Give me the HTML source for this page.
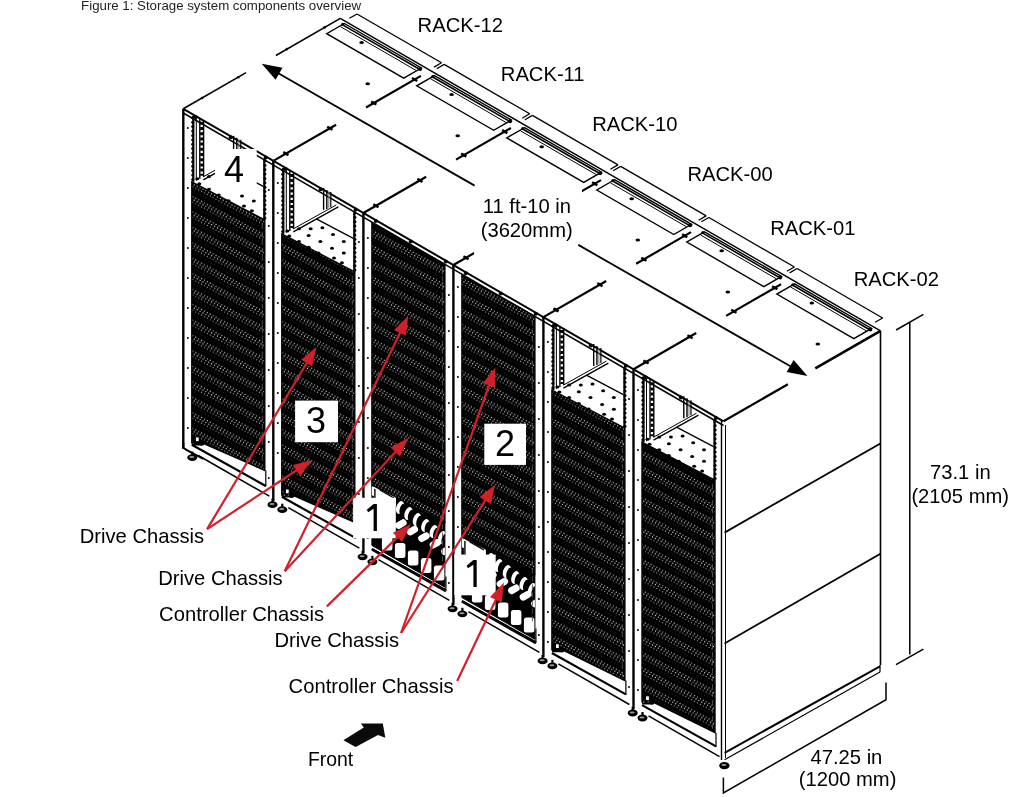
<!DOCTYPE html>
<html><head><meta charset="utf-8"><style>
html,body{margin:0;padding:0;background:#fff;width:1026px;height:797px;overflow:hidden}
svg{display:block;will-change:transform}
text{font-family:"Liberation Sans",sans-serif}
</style></head><body>
<svg width="1026" height="797" viewBox="0 0 1026 797">
<defs>
<pattern id="mesh" patternUnits="userSpaceOnUse" width="29" height="15.45">
<rect width="29" height="15.45" fill="#000"/>
<circle cx="1.45" cy="2.00" r="0.66" fill="#c8c8c8"/><circle cx="2.90" cy="5.37" r="0.66" fill="#e0e0e0"/><circle cx="1.45" cy="7.60" r="0.62" fill="#a8a8a8"/><circle cx="2.90" cy="12.50" r="0.45" fill="#404040"/><circle cx="4.35" cy="3.54" r="0.66" fill="#c8c8c8"/><circle cx="5.80" cy="6.91" r="0.66" fill="#e0e0e0"/><circle cx="4.35" cy="9.14" r="0.62" fill="#a8a8a8"/><circle cx="5.80" cy="14.04" r="0.45" fill="#404040"/><circle cx="7.25" cy="5.09" r="0.66" fill="#c8c8c8"/><circle cx="8.70" cy="8.46" r="0.66" fill="#e0e0e0"/><circle cx="7.25" cy="10.69" r="0.62" fill="#a8a8a8"/><circle cx="8.70" cy="0.14" r="0.45" fill="#404040"/><circle cx="8.70" cy="15.59" r="0.45" fill="#404040"/><circle cx="10.15" cy="6.63" r="0.66" fill="#c8c8c8"/><circle cx="11.60" cy="10.00" r="0.66" fill="#e0e0e0"/><circle cx="10.15" cy="12.23" r="0.62" fill="#a8a8a8"/><circle cx="11.60" cy="1.68" r="0.45" fill="#404040"/><circle cx="13.05" cy="8.18" r="0.66" fill="#c8c8c8"/><circle cx="14.50" cy="11.55" r="0.66" fill="#e0e0e0"/><circle cx="13.05" cy="13.78" r="0.62" fill="#a8a8a8"/><circle cx="14.50" cy="3.23" r="0.45" fill="#404040"/><circle cx="15.95" cy="9.72" r="0.66" fill="#c8c8c8"/><circle cx="17.40" cy="13.09" r="0.66" fill="#e0e0e0"/><circle cx="15.95" cy="15.32" r="0.62" fill="#a8a8a8"/><circle cx="15.95" cy="-0.12" r="0.62" fill="#a8a8a8"/><circle cx="17.40" cy="4.78" r="0.45" fill="#404040"/><circle cx="18.85" cy="11.27" r="0.66" fill="#c8c8c8"/><circle cx="20.30" cy="14.64" r="0.66" fill="#e0e0e0"/><circle cx="20.30" cy="-0.81" r="0.66" fill="#e0e0e0"/><circle cx="18.85" cy="1.42" r="0.62" fill="#a8a8a8"/><circle cx="20.30" cy="6.32" r="0.45" fill="#404040"/><circle cx="21.75" cy="12.81" r="0.66" fill="#c8c8c8"/><circle cx="23.20" cy="0.73" r="0.66" fill="#e0e0e0"/><circle cx="23.20" cy="16.18" r="0.66" fill="#e0e0e0"/><circle cx="21.75" cy="2.96" r="0.62" fill="#a8a8a8"/><circle cx="23.20" cy="7.86" r="0.45" fill="#404040"/><circle cx="24.65" cy="14.36" r="0.66" fill="#c8c8c8"/><circle cx="26.10" cy="2.28" r="0.66" fill="#e0e0e0"/><circle cx="24.65" cy="4.51" r="0.62" fill="#a8a8a8"/><circle cx="26.10" cy="9.41" r="0.45" fill="#404040"/><circle cx="27.55" cy="0.46" r="0.66" fill="#c8c8c8"/><circle cx="27.55" cy="15.90" r="0.66" fill="#c8c8c8"/><circle cx="29.00" cy="3.83" r="0.66" fill="#e0e0e0"/><circle cx="-0.00" cy="3.83" r="0.66" fill="#e0e0e0"/><circle cx="27.55" cy="6.05" r="0.62" fill="#a8a8a8"/><circle cx="29.00" cy="10.96" r="0.45" fill="#404040"/><circle cx="-0.00" cy="10.96" r="0.45" fill="#404040"/>
</pattern>
</defs>
<line x1="183.3" y1="108.8" x2="246.1" y2="72.6" stroke="#000" stroke-width="1.6" />
<line x1="275.9" y1="55.5" x2="340.3" y2="18.4" stroke="#000" stroke-width="1.6" />
<line x1="340.3" y1="18.4" x2="880.5" y2="330.9" stroke="#000" stroke-width="1.4" />
<line x1="723.5" y1="421.3" x2="787.9" y2="384.2" stroke="#000" stroke-width="2.2" />
<line x1="815.3" y1="368.4" x2="880.5" y2="330.9" stroke="#000" stroke-width="2.6" />
<line x1="273.3" y1="160.9" x2="336.1" y2="124.7" stroke="#000" stroke-width="2.2" />
<line x1="366.0" y1="107.5" x2="420.9" y2="75.9" stroke="#000" stroke-width="2.2" />
<line x1="283.3" y1="152.1" x2="288.5" y2="155.1" stroke="#000" stroke-width="2.4" />
<circle cx="285.9" cy="153.6" r="1.6" fill="#000"/>
<line x1="327.2" y1="126.8" x2="332.5" y2="129.8" stroke="#000" stroke-width="2.4" />
<circle cx="329.9" cy="128.3" r="1.6" fill="#000"/>
<line x1="371.2" y1="101.5" x2="376.4" y2="104.5" stroke="#000" stroke-width="2.4" />
<circle cx="373.8" cy="103.0" r="1.6" fill="#000"/>
<line x1="412.0" y1="78.0" x2="417.2" y2="81.0" stroke="#000" stroke-width="2.4" />
<circle cx="414.6" cy="79.5" r="1.6" fill="#000"/>
<line x1="363.4" y1="213.0" x2="426.2" y2="176.8" stroke="#000" stroke-width="2.2" />
<line x1="456.0" y1="159.6" x2="510.9" y2="128.0" stroke="#000" stroke-width="2.2" />
<line x1="373.3" y1="204.2" x2="378.5" y2="207.2" stroke="#000" stroke-width="2.4" />
<circle cx="375.9" cy="205.7" r="1.6" fill="#000"/>
<line x1="417.3" y1="178.9" x2="422.5" y2="181.9" stroke="#000" stroke-width="2.4" />
<circle cx="419.9" cy="180.4" r="1.6" fill="#000"/>
<line x1="461.2" y1="153.6" x2="466.4" y2="156.6" stroke="#000" stroke-width="2.4" />
<circle cx="463.8" cy="155.1" r="1.6" fill="#000"/>
<line x1="502.1" y1="130.1" x2="507.3" y2="133.1" stroke="#000" stroke-width="2.4" />
<circle cx="504.7" cy="131.6" r="1.6" fill="#000"/>
<line x1="453.4" y1="265.0" x2="516.2" y2="228.9" stroke="#000" stroke-width="2.2" />
<line x1="546.0" y1="211.7" x2="601.0" y2="180.1" stroke="#000" stroke-width="2.2" />
<line x1="463.4" y1="256.3" x2="468.6" y2="259.3" stroke="#000" stroke-width="2.4" />
<circle cx="466.0" cy="257.8" r="1.6" fill="#000"/>
<line x1="507.3" y1="231.0" x2="512.5" y2="234.0" stroke="#000" stroke-width="2.4" />
<circle cx="509.9" cy="232.5" r="1.6" fill="#000"/>
<line x1="551.3" y1="205.7" x2="556.5" y2="208.7" stroke="#000" stroke-width="2.4" />
<circle cx="553.9" cy="207.2" r="1.6" fill="#000"/>
<line x1="592.1" y1="182.2" x2="597.3" y2="185.2" stroke="#000" stroke-width="2.4" />
<circle cx="594.7" cy="183.7" r="1.6" fill="#000"/>
<line x1="543.4" y1="317.1" x2="606.2" y2="281.0" stroke="#000" stroke-width="2.2" />
<line x1="636.1" y1="263.8" x2="691.0" y2="232.1" stroke="#000" stroke-width="2.2" />
<line x1="553.4" y1="308.4" x2="558.6" y2="311.4" stroke="#000" stroke-width="2.4" />
<circle cx="556.0" cy="309.9" r="1.6" fill="#000"/>
<line x1="597.3" y1="283.1" x2="602.5" y2="286.1" stroke="#000" stroke-width="2.4" />
<circle cx="599.9" cy="284.6" r="1.6" fill="#000"/>
<line x1="641.3" y1="257.8" x2="646.5" y2="260.8" stroke="#000" stroke-width="2.4" />
<circle cx="643.9" cy="259.3" r="1.6" fill="#000"/>
<line x1="682.1" y1="234.3" x2="687.3" y2="237.3" stroke="#000" stroke-width="2.4" />
<circle cx="684.7" cy="235.8" r="1.6" fill="#000"/>
<line x1="633.5" y1="369.2" x2="696.2" y2="333.0" stroke="#000" stroke-width="2.2" />
<line x1="726.1" y1="315.9" x2="781.0" y2="284.2" stroke="#000" stroke-width="2.2" />
<line x1="643.4" y1="360.5" x2="648.6" y2="363.5" stroke="#000" stroke-width="2.4" />
<circle cx="646.0" cy="362.0" r="1.6" fill="#000"/>
<line x1="687.4" y1="335.2" x2="692.6" y2="338.2" stroke="#000" stroke-width="2.4" />
<circle cx="690.0" cy="336.7" r="1.6" fill="#000"/>
<line x1="731.3" y1="309.8" x2="736.5" y2="312.8" stroke="#000" stroke-width="2.4" />
<circle cx="733.9" cy="311.3" r="1.6" fill="#000"/>
<line x1="772.1" y1="286.3" x2="777.4" y2="289.3" stroke="#000" stroke-width="2.4" />
<circle cx="774.8" cy="287.8" r="1.6" fill="#000"/>
<circle cx="202.1" cy="98.0" r="1.3" fill="#000"/>
<circle cx="238.2" cy="77.2" r="1.3" fill="#000"/>
<circle cx="286.9" cy="49.1" r="1.3" fill="#000"/>
<circle cx="324.6" cy="27.4" r="1.3" fill="#000"/>
<polygon points="344.4,23.5 421.4,68.0 403.7,78.2 326.7,33.7" fill="none" stroke="#000" stroke-width="1.4" />
<line x1="343.1" y1="25.1" x2="418.7" y2="68.8" stroke="#000" stroke-width="1.6" />
<line x1="340.4" y1="26.6" x2="416.1" y2="70.4" stroke="#000" stroke-width="1.0" />
<ellipse cx="361.6" cy="42.5" rx="2.3" ry="1.5" fill="#000"/>
<ellipse cx="367.7" cy="83.7" rx="2.3" ry="1.5" fill="#000"/>
<circle cx="420.1" cy="69.1" r="2.0" fill="#000"/>
<circle cx="342.7" cy="24.3" r="1.5" fill="#000"/>
<line x1="357.0" y1="14.0" x2="441.5" y2="62.8" stroke="#000" stroke-width="1.3" />
<line x1="357.0" y1="14.0" x2="349.5" y2="18.3" stroke="#000" stroke-width="1.3" />
<line x1="441.5" y1="62.8" x2="434.0" y2="67.1" stroke="#000" stroke-width="1.3" />
<polygon points="434.5,75.6 511.4,120.1 493.7,130.3 416.7,85.8" fill="none" stroke="#000" stroke-width="1.4" />
<line x1="433.1" y1="77.2" x2="508.8" y2="120.9" stroke="#000" stroke-width="1.6" />
<line x1="430.5" y1="78.7" x2="506.1" y2="122.5" stroke="#000" stroke-width="1.0" />
<ellipse cx="451.6" cy="94.6" rx="2.3" ry="1.5" fill="#000"/>
<ellipse cx="457.7" cy="135.8" rx="2.3" ry="1.5" fill="#000"/>
<circle cx="510.1" cy="121.2" r="2.0" fill="#000"/>
<circle cx="432.7" cy="76.4" r="1.5" fill="#000"/>
<line x1="444.2" y1="64.4" x2="529.7" y2="113.8" stroke="#000" stroke-width="1.3" />
<line x1="444.2" y1="64.4" x2="436.7" y2="68.7" stroke="#000" stroke-width="1.3" />
<line x1="529.7" y1="113.8" x2="522.2" y2="118.2" stroke="#000" stroke-width="1.3" />
<polygon points="524.5,127.7 601.5,172.2 583.7,182.4 506.7,137.9" fill="none" stroke="#000" stroke-width="1.4" />
<line x1="523.2" y1="129.3" x2="598.8" y2="173.0" stroke="#000" stroke-width="1.6" />
<line x1="520.5" y1="130.8" x2="596.1" y2="174.5" stroke="#000" stroke-width="1.0" />
<ellipse cx="541.7" cy="146.7" rx="2.3" ry="1.5" fill="#000"/>
<ellipse cx="547.7" cy="187.9" rx="2.3" ry="1.5" fill="#000"/>
<circle cx="600.2" cy="173.3" r="2.0" fill="#000"/>
<circle cx="522.7" cy="128.5" r="1.5" fill="#000"/>
<line x1="532.4" y1="115.4" x2="618.0" y2="164.9" stroke="#000" stroke-width="1.3" />
<line x1="532.4" y1="115.4" x2="524.9" y2="119.7" stroke="#000" stroke-width="1.3" />
<line x1="618.0" y1="164.9" x2="610.4" y2="169.2" stroke="#000" stroke-width="1.3" />
<polygon points="614.5,179.7 691.5,224.3 673.8,234.5 596.8,190.0" fill="none" stroke="#000" stroke-width="1.4" />
<line x1="613.2" y1="181.3" x2="688.8" y2="225.1" stroke="#000" stroke-width="1.6" />
<line x1="610.5" y1="182.9" x2="686.2" y2="226.6" stroke="#000" stroke-width="1.0" />
<ellipse cx="631.7" cy="198.7" rx="2.3" ry="1.5" fill="#000"/>
<ellipse cx="637.8" cy="239.9" rx="2.3" ry="1.5" fill="#000"/>
<circle cx="690.2" cy="225.3" r="2.0" fill="#000"/>
<circle cx="612.8" cy="180.5" r="1.5" fill="#000"/>
<line x1="620.7" y1="166.4" x2="706.2" y2="215.9" stroke="#000" stroke-width="1.3" />
<line x1="620.7" y1="166.4" x2="613.1" y2="170.8" stroke="#000" stroke-width="1.3" />
<line x1="706.2" y1="215.9" x2="698.6" y2="220.3" stroke="#000" stroke-width="1.3" />
<polygon points="704.5,231.8 781.5,276.4 763.8,286.6 686.8,242.0" fill="none" stroke="#000" stroke-width="1.4" />
<line x1="703.2" y1="233.4" x2="778.9" y2="277.2" stroke="#000" stroke-width="1.6" />
<line x1="700.6" y1="235.0" x2="776.2" y2="278.7" stroke="#000" stroke-width="1.0" />
<ellipse cx="721.7" cy="250.8" rx="2.3" ry="1.5" fill="#000"/>
<ellipse cx="727.8" cy="292.0" rx="2.3" ry="1.5" fill="#000"/>
<circle cx="780.2" cy="277.4" r="2.0" fill="#000"/>
<circle cx="702.8" cy="232.6" r="1.5" fill="#000"/>
<line x1="708.9" y1="217.5" x2="794.4" y2="267.0" stroke="#000" stroke-width="1.3" />
<line x1="708.9" y1="217.5" x2="701.3" y2="221.8" stroke="#000" stroke-width="1.3" />
<line x1="794.4" y1="267.0" x2="786.9" y2="271.3" stroke="#000" stroke-width="1.3" />
<polygon points="794.6,283.9 871.6,328.4 853.8,338.6 776.8,294.1" fill="none" stroke="#000" stroke-width="1.4" />
<line x1="793.3" y1="285.5" x2="868.9" y2="329.2" stroke="#000" stroke-width="1.6" />
<line x1="790.6" y1="287.0" x2="866.2" y2="330.8" stroke="#000" stroke-width="1.0" />
<ellipse cx="811.8" cy="302.9" rx="2.3" ry="1.5" fill="#000"/>
<ellipse cx="817.8" cy="344.1" rx="2.3" ry="1.5" fill="#000"/>
<circle cx="870.3" cy="329.5" r="2.0" fill="#000"/>
<circle cx="792.8" cy="284.7" r="1.5" fill="#000"/>
<line x1="797.1" y1="268.5" x2="882.6" y2="318.0" stroke="#000" stroke-width="1.3" />
<line x1="797.1" y1="268.5" x2="789.6" y2="272.9" stroke="#000" stroke-width="1.3" />
<line x1="882.6" y1="318.0" x2="875.1" y2="322.3" stroke="#000" stroke-width="1.3" />
<line x1="183.3" y1="108.8" x2="723.5" y2="421.3" stroke="#000" stroke-width="2.0" />
<line x1="183.3" y1="113.0" x2="723.5" y2="425.5" stroke="#000" stroke-width="1.5" />
<line x1="880.5" y1="330.9" x2="880.5" y2="665.0" stroke="#000" stroke-width="1.6" />
<line x1="724.5" y1="532.6" x2="880.4" y2="443.5" stroke="#000" stroke-width="1.8" />
<line x1="724.5" y1="643.5" x2="880.4" y2="553.8" stroke="#000" stroke-width="1.8" />
<line x1="724.6" y1="752.8" x2="880.0" y2="666.3" stroke="#000" stroke-width="2.0" />
<line x1="724.6" y1="759.8" x2="880.0" y2="672.0" stroke="#000" stroke-width="1.2" />
<line x1="880.0" y1="665.0" x2="880.0" y2="672.0" stroke="#000" stroke-width="1.2" />
<line x1="721.5" y1="421.0" x2="721.5" y2="760.0" stroke="#000" stroke-width="1.4" />
<line x1="725.5" y1="425.0" x2="725.5" y2="758.0" stroke="#000" stroke-width="1.0" />
<line x1="183.3" y1="108.8" x2="183.3" y2="448.8" stroke="#000" stroke-width="2.4" />
<circle cx="187.8" cy="128.0" r="1.0" fill="#000"/>
<circle cx="187.8" cy="158.0" r="1.0" fill="#000"/>
<circle cx="187.8" cy="188.0" r="1.0" fill="#000"/>
<circle cx="187.8" cy="218.0" r="1.0" fill="#000"/>
<circle cx="187.8" cy="248.0" r="1.0" fill="#000"/>
<circle cx="187.8" cy="278.0" r="1.0" fill="#000"/>
<circle cx="187.8" cy="308.0" r="1.0" fill="#000"/>
<circle cx="187.8" cy="338.0" r="1.0" fill="#000"/>
<circle cx="187.8" cy="368.0" r="1.0" fill="#000"/>
<circle cx="187.8" cy="398.0" r="1.0" fill="#000"/>
<circle cx="187.8" cy="428.0" r="1.0" fill="#000"/>
<polygon points="191.8,181.8 264.8,219.8 264.8,470.4 200.8,442.3 200.8,444.8 192.8,444.8 191.8,442.8" fill="url(#mesh)" stroke="#000" stroke-width="1.4" />
<rect x="195.3" y="436.8" width="4" height="5" fill="#fff" stroke="#000" stroke-width="1.2"/>
<ellipse cx="201.8" cy="443.8" rx="2.5" ry="2" fill="#000"/>
<line x1="262.3" y1="223.8" x2="262.3" y2="466.4" stroke="#555" stroke-width="0.9" stroke-dasharray="5 3"/>
<line x1="193.3" y1="115.8" x2="193.3" y2="181.8" stroke="#000" stroke-width="2.2" />
<circle cx="192.7" cy="117.8" r="1.5" fill="#000"/>
<circle cx="192.7" cy="122.2" r="1.5" fill="#000"/>
<circle cx="192.7" cy="126.6" r="1.5" fill="#000"/>
<circle cx="192.7" cy="131.0" r="1.5" fill="#000"/>
<circle cx="192.7" cy="135.4" r="1.5" fill="#000"/>
<circle cx="192.7" cy="139.8" r="1.5" fill="#000"/>
<circle cx="192.7" cy="144.2" r="1.5" fill="#000"/>
<circle cx="192.7" cy="148.6" r="1.5" fill="#000"/>
<circle cx="192.7" cy="153.0" r="1.5" fill="#000"/>
<circle cx="192.7" cy="157.4" r="1.5" fill="#000"/>
<circle cx="192.7" cy="161.8" r="1.5" fill="#000"/>
<circle cx="192.7" cy="166.2" r="1.5" fill="#000"/>
<circle cx="192.7" cy="170.6" r="1.5" fill="#000"/>
<circle cx="192.7" cy="175.0" r="1.5" fill="#000"/>
<circle cx="192.7" cy="179.4" r="1.5" fill="#000"/>
<line x1="264.3" y1="158.8" x2="264.3" y2="219.8" stroke="#000" stroke-width="2.2" />
<circle cx="264.9" cy="160.8" r="1.5" fill="#000"/>
<circle cx="264.9" cy="165.2" r="1.5" fill="#000"/>
<circle cx="264.9" cy="169.6" r="1.5" fill="#000"/>
<circle cx="264.9" cy="174.0" r="1.5" fill="#000"/>
<circle cx="264.9" cy="178.4" r="1.5" fill="#000"/>
<circle cx="264.9" cy="182.8" r="1.5" fill="#000"/>
<circle cx="264.9" cy="187.2" r="1.5" fill="#000"/>
<circle cx="264.9" cy="191.6" r="1.5" fill="#000"/>
<circle cx="264.9" cy="196.0" r="1.5" fill="#000"/>
<circle cx="264.9" cy="200.4" r="1.5" fill="#000"/>
<circle cx="264.9" cy="204.8" r="1.5" fill="#000"/>
<circle cx="264.9" cy="209.2" r="1.5" fill="#000"/>
<circle cx="264.9" cy="213.6" r="1.5" fill="#000"/>
<circle cx="264.9" cy="218.0" r="1.5" fill="#000"/>
<line x1="196.3" y1="117.8" x2="196.3" y2="180.8" stroke="#000" stroke-width="1.0" />
<line x1="199.8" y1="118.8" x2="199.8" y2="178.8" stroke="#000" stroke-width="1.4" />
<line x1="203.6" y1="120.8" x2="203.6" y2="176.8" stroke="#000" stroke-width="1.4" />
<line x1="201.7" y1="121.8" x2="201.7" y2="175.8" stroke="#000" stroke-width="3.0" stroke-dasharray="3 2.2"/>
<line x1="233.6" y1="135.8" x2="233.6" y2="157.8" stroke="#000" stroke-width="1.4" />
<line x1="236.8" y1="137.8" x2="236.8" y2="156.8" stroke="#000" stroke-width="1.4" />
<line x1="240.8" y1="139.8" x2="240.8" y2="154.8" stroke="#000" stroke-width="1.2" />
<line x1="238.8" y1="139.8" x2="238.8" y2="155.8" stroke="#777" stroke-width="1.0" />
<line x1="203.3" y1="179.8" x2="248.3" y2="154.8" stroke="#000" stroke-width="1.4" />
<line x1="203.3" y1="176.8" x2="246.3" y2="152.8" stroke="#000" stroke-width="1.0" />
<line x1="226.3" y1="166.8" x2="263.3" y2="186.3" stroke="#000" stroke-width="1.3" />
<ellipse cx="209.0" cy="176.6" rx="2.0" ry="1.5" fill="#000"/>
<ellipse cx="220.7" cy="176.6" rx="2.0" ry="1.5" fill="#000"/>
<ellipse cx="232.4" cy="175.6" rx="2.0" ry="1.5" fill="#000"/>
<ellipse cx="243.0" cy="182.4" rx="2.0" ry="1.5" fill="#000"/>
<ellipse cx="218.7" cy="183.4" rx="2.0" ry="1.5" fill="#000"/>
<ellipse cx="230.4" cy="189.3" rx="2.0" ry="1.5" fill="#000"/>
<ellipse cx="209.0" cy="189.3" rx="2.0" ry="1.5" fill="#000"/>
<ellipse cx="218.7" cy="195.1" rx="2.0" ry="1.5" fill="#000"/>
<ellipse cx="242.0" cy="196.1" rx="2.0" ry="1.5" fill="#000"/>
<ellipse cx="253.8" cy="189.3" rx="2.0" ry="1.5" fill="#000"/>
<ellipse cx="253.8" cy="200.9" rx="2.0" ry="1.5" fill="#000"/>
<ellipse cx="228.5" cy="200.8" rx="2.0" ry="1.5" fill="#000"/>
<ellipse cx="244.0" cy="205.9" rx="2.0" ry="1.5" fill="#000"/>
<ellipse cx="251.9" cy="210.7" rx="2.0" ry="1.5" fill="#000"/>
<ellipse cx="199.3" cy="183.8" rx="2.0" ry="1.5" fill="#000"/>
<ellipse cx="197.3" cy="178.8" rx="2.0" ry="1.5" fill="#000"/>
<line x1="191.8" y1="444.7" x2="265.8" y2="486.0" stroke="#000" stroke-width="2.2" />
<line x1="198.3" y1="455.5" x2="269.3" y2="496.2" stroke="#000" stroke-width="1.5" />
<line x1="265.8" y1="470.4" x2="265.8" y2="486.5" stroke="#000" stroke-width="1.2" />
<line x1="192.3" y1="451.6" x2="192.3" y2="455.6" stroke="#000" stroke-width="2.2" />
<ellipse cx="192.3" cy="457.6" rx="5" ry="3.4" fill="#000"/>
<ellipse cx="191.8" cy="457.0" rx="2.6" ry="1.0" fill="#999"/>
<line x1="273.3" y1="160.9" x2="273.3" y2="500.9" stroke="#000" stroke-width="2.4" />
<circle cx="277.8" cy="183.0" r="1.0" fill="#000"/>
<circle cx="277.8" cy="213.0" r="1.0" fill="#000"/>
<circle cx="277.8" cy="243.0" r="1.0" fill="#000"/>
<circle cx="277.8" cy="273.0" r="1.0" fill="#000"/>
<circle cx="277.8" cy="303.0" r="1.0" fill="#000"/>
<circle cx="277.8" cy="333.0" r="1.0" fill="#000"/>
<circle cx="277.8" cy="363.0" r="1.0" fill="#000"/>
<circle cx="277.8" cy="393.0" r="1.0" fill="#000"/>
<circle cx="277.8" cy="423.0" r="1.0" fill="#000"/>
<circle cx="277.8" cy="453.0" r="1.0" fill="#000"/>
<circle cx="277.8" cy="483.0" r="1.0" fill="#000"/>
<circle cx="268.8" cy="190.0" r="1.0" fill="#000"/>
<circle cx="268.8" cy="226.0" r="1.0" fill="#000"/>
<circle cx="268.8" cy="262.0" r="1.0" fill="#000"/>
<circle cx="268.8" cy="298.0" r="1.0" fill="#000"/>
<circle cx="268.8" cy="334.0" r="1.0" fill="#000"/>
<circle cx="268.8" cy="370.0" r="1.0" fill="#000"/>
<circle cx="268.8" cy="406.0" r="1.0" fill="#000"/>
<circle cx="268.8" cy="442.0" r="1.0" fill="#000"/>
<circle cx="268.8" cy="478.0" r="1.0" fill="#000"/>
<polygon points="281.8,233.9 354.8,271.9 354.8,522.5 290.8,494.4 290.8,496.9 282.8,496.9 281.8,494.9" fill="url(#mesh)" stroke="#000" stroke-width="1.4" />
<rect x="285.3" y="488.9" width="4" height="5" fill="#fff" stroke="#000" stroke-width="1.2"/>
<ellipse cx="291.8" cy="495.9" rx="2.5" ry="2" fill="#000"/>
<line x1="352.3" y1="275.9" x2="352.3" y2="518.5" stroke="#555" stroke-width="0.9" stroke-dasharray="5 3"/>
<line x1="283.3" y1="167.9" x2="283.3" y2="233.9" stroke="#000" stroke-width="2.2" />
<circle cx="282.7" cy="169.9" r="1.5" fill="#000"/>
<circle cx="282.7" cy="174.3" r="1.5" fill="#000"/>
<circle cx="282.7" cy="178.7" r="1.5" fill="#000"/>
<circle cx="282.7" cy="183.1" r="1.5" fill="#000"/>
<circle cx="282.7" cy="187.5" r="1.5" fill="#000"/>
<circle cx="282.7" cy="191.9" r="1.5" fill="#000"/>
<circle cx="282.7" cy="196.3" r="1.5" fill="#000"/>
<circle cx="282.7" cy="200.7" r="1.5" fill="#000"/>
<circle cx="282.7" cy="205.1" r="1.5" fill="#000"/>
<circle cx="282.7" cy="209.5" r="1.5" fill="#000"/>
<circle cx="282.7" cy="213.9" r="1.5" fill="#000"/>
<circle cx="282.7" cy="218.3" r="1.5" fill="#000"/>
<circle cx="282.7" cy="222.7" r="1.5" fill="#000"/>
<circle cx="282.7" cy="227.1" r="1.5" fill="#000"/>
<circle cx="282.7" cy="231.5" r="1.5" fill="#000"/>
<line x1="354.3" y1="210.9" x2="354.3" y2="271.9" stroke="#000" stroke-width="2.2" />
<circle cx="354.9" cy="212.9" r="1.5" fill="#000"/>
<circle cx="354.9" cy="217.3" r="1.5" fill="#000"/>
<circle cx="354.9" cy="221.7" r="1.5" fill="#000"/>
<circle cx="354.9" cy="226.1" r="1.5" fill="#000"/>
<circle cx="354.9" cy="230.5" r="1.5" fill="#000"/>
<circle cx="354.9" cy="234.9" r="1.5" fill="#000"/>
<circle cx="354.9" cy="239.3" r="1.5" fill="#000"/>
<circle cx="354.9" cy="243.7" r="1.5" fill="#000"/>
<circle cx="354.9" cy="248.1" r="1.5" fill="#000"/>
<circle cx="354.9" cy="252.5" r="1.5" fill="#000"/>
<circle cx="354.9" cy="256.9" r="1.5" fill="#000"/>
<circle cx="354.9" cy="261.3" r="1.5" fill="#000"/>
<circle cx="354.9" cy="265.7" r="1.5" fill="#000"/>
<circle cx="354.9" cy="270.1" r="1.5" fill="#000"/>
<line x1="286.3" y1="169.9" x2="286.3" y2="232.9" stroke="#000" stroke-width="1.0" />
<line x1="289.8" y1="170.9" x2="289.8" y2="230.9" stroke="#000" stroke-width="1.4" />
<line x1="293.6" y1="172.9" x2="293.6" y2="228.9" stroke="#000" stroke-width="1.4" />
<line x1="291.7" y1="173.9" x2="291.7" y2="227.9" stroke="#000" stroke-width="3.0" stroke-dasharray="3 2.2"/>
<line x1="323.6" y1="187.9" x2="323.6" y2="209.9" stroke="#000" stroke-width="1.4" />
<line x1="326.8" y1="189.9" x2="326.8" y2="208.9" stroke="#000" stroke-width="1.4" />
<line x1="330.8" y1="191.9" x2="330.8" y2="206.9" stroke="#000" stroke-width="1.2" />
<line x1="328.8" y1="191.9" x2="328.8" y2="207.9" stroke="#777" stroke-width="1.0" />
<line x1="293.3" y1="231.9" x2="338.3" y2="206.9" stroke="#000" stroke-width="1.4" />
<line x1="293.3" y1="228.9" x2="336.3" y2="204.9" stroke="#000" stroke-width="1.0" />
<line x1="316.3" y1="218.9" x2="353.3" y2="238.4" stroke="#000" stroke-width="1.3" />
<ellipse cx="299.0" cy="228.7" rx="2.0" ry="1.5" fill="#000"/>
<ellipse cx="310.7" cy="228.7" rx="2.0" ry="1.5" fill="#000"/>
<ellipse cx="322.4" cy="227.7" rx="2.0" ry="1.5" fill="#000"/>
<ellipse cx="333.0" cy="234.5" rx="2.0" ry="1.5" fill="#000"/>
<ellipse cx="308.7" cy="235.5" rx="2.0" ry="1.5" fill="#000"/>
<ellipse cx="320.4" cy="241.4" rx="2.0" ry="1.5" fill="#000"/>
<ellipse cx="299.0" cy="241.4" rx="2.0" ry="1.5" fill="#000"/>
<ellipse cx="308.7" cy="247.2" rx="2.0" ry="1.5" fill="#000"/>
<ellipse cx="332.0" cy="248.2" rx="2.0" ry="1.5" fill="#000"/>
<ellipse cx="343.8" cy="241.4" rx="2.0" ry="1.5" fill="#000"/>
<ellipse cx="343.8" cy="253.0" rx="2.0" ry="1.5" fill="#000"/>
<ellipse cx="318.5" cy="252.9" rx="2.0" ry="1.5" fill="#000"/>
<ellipse cx="334.0" cy="258.0" rx="2.0" ry="1.5" fill="#000"/>
<ellipse cx="341.9" cy="262.8" rx="2.0" ry="1.5" fill="#000"/>
<ellipse cx="289.3" cy="235.9" rx="2.0" ry="1.5" fill="#000"/>
<ellipse cx="287.3" cy="230.9" rx="2.0" ry="1.5" fill="#000"/>
<line x1="281.8" y1="496.8" x2="355.8" y2="538.1" stroke="#000" stroke-width="2.2" />
<line x1="288.3" y1="507.6" x2="359.3" y2="548.2" stroke="#000" stroke-width="1.5" />
<line x1="355.8" y1="522.5" x2="355.8" y2="538.6" stroke="#000" stroke-width="1.2" />
<line x1="282.3" y1="503.7" x2="282.3" y2="507.7" stroke="#000" stroke-width="2.2" />
<ellipse cx="282.3" cy="509.7" rx="5" ry="3.4" fill="#000"/>
<ellipse cx="281.8" cy="509.1" rx="2.6" ry="1.0" fill="#999"/>
<line x1="272.5" y1="498.7" x2="272.5" y2="502.7" stroke="#000" stroke-width="2.2" />
<ellipse cx="272.5" cy="504.7" rx="5" ry="3.4" fill="#000"/>
<ellipse cx="272.0" cy="504.1" rx="2.6" ry="1.0" fill="#999"/>
<line x1="363.4" y1="213.0" x2="363.4" y2="553.0" stroke="#000" stroke-width="2.4" />
<circle cx="367.9" cy="238.0" r="1.0" fill="#000"/>
<circle cx="367.9" cy="268.0" r="1.0" fill="#000"/>
<circle cx="367.9" cy="298.0" r="1.0" fill="#000"/>
<circle cx="367.9" cy="328.0" r="1.0" fill="#000"/>
<circle cx="367.9" cy="358.0" r="1.0" fill="#000"/>
<circle cx="367.9" cy="388.0" r="1.0" fill="#000"/>
<circle cx="367.9" cy="418.0" r="1.0" fill="#000"/>
<circle cx="367.9" cy="448.0" r="1.0" fill="#000"/>
<circle cx="367.9" cy="478.0" r="1.0" fill="#000"/>
<circle cx="367.9" cy="508.0" r="1.0" fill="#000"/>
<circle cx="367.9" cy="538.0" r="1.0" fill="#000"/>
<circle cx="358.9" cy="242.0" r="1.0" fill="#000"/>
<circle cx="358.9" cy="278.0" r="1.0" fill="#000"/>
<circle cx="358.9" cy="314.0" r="1.0" fill="#000"/>
<circle cx="358.9" cy="350.0" r="1.0" fill="#000"/>
<circle cx="358.9" cy="386.0" r="1.0" fill="#000"/>
<circle cx="358.9" cy="422.0" r="1.0" fill="#000"/>
<circle cx="358.9" cy="458.0" r="1.0" fill="#000"/>
<circle cx="358.9" cy="494.0" r="1.0" fill="#000"/>
<circle cx="358.9" cy="530.0" r="1.0" fill="#000"/>
<polygon points="371.9,223.4 444.9,264.5 444.9,522.0 371.9,486.0" fill="url(#mesh)" stroke="#000" stroke-width="1.4" />
<clipPath id="cc2"><polygon points="371.9,486.0 444.9,522.0 444.9,587.2 371.9,545.4"/></clipPath>
<polygon points="371.9,486.0 444.9,522.0 444.9,587.2 371.9,545.4" fill="#000" stroke="#000" stroke-width="1.0" />
<g clip-path="url(#cc2)">
<ellipse cx="374.9" cy="489.5" rx="3.8" ry="6.6" fill="#fff" transform="rotate(18 374.9 489.5)"/>
<ellipse cx="377.3" cy="490.3" rx="2.3" ry="5.4" fill="#000" transform="rotate(18 374.9 489.5)"/>
<ellipse cx="383.3" cy="495.5" rx="3.8" ry="6.6" fill="#fff" transform="rotate(18 383.3 495.5)"/>
<ellipse cx="385.7" cy="496.3" rx="2.3" ry="5.4" fill="#000" transform="rotate(18 383.3 495.5)"/>
<ellipse cx="391.7" cy="501.5" rx="3.8" ry="6.6" fill="#fff" transform="rotate(18 391.7 501.5)"/>
<ellipse cx="394.1" cy="502.3" rx="2.3" ry="5.4" fill="#000" transform="rotate(18 391.7 501.5)"/>
<ellipse cx="400.1" cy="507.5" rx="3.8" ry="6.6" fill="#fff" transform="rotate(18 400.1 507.5)"/>
<ellipse cx="402.5" cy="508.3" rx="2.3" ry="5.4" fill="#000" transform="rotate(18 400.1 507.5)"/>
<ellipse cx="408.5" cy="513.5" rx="3.8" ry="6.6" fill="#fff" transform="rotate(18 408.5 513.5)"/>
<ellipse cx="410.9" cy="514.3" rx="2.3" ry="5.4" fill="#000" transform="rotate(18 408.5 513.5)"/>
<ellipse cx="416.9" cy="519.5" rx="3.8" ry="6.6" fill="#fff" transform="rotate(18 416.9 519.5)"/>
<ellipse cx="419.3" cy="520.3" rx="2.3" ry="5.4" fill="#000" transform="rotate(18 416.9 519.5)"/>
<ellipse cx="425.3" cy="525.5" rx="3.8" ry="6.6" fill="#fff" transform="rotate(18 425.3 525.5)"/>
<ellipse cx="427.7" cy="526.3" rx="2.3" ry="5.4" fill="#000" transform="rotate(18 425.3 525.5)"/>
<ellipse cx="433.7" cy="531.5" rx="3.8" ry="6.6" fill="#fff" transform="rotate(18 433.7 531.5)"/>
<ellipse cx="436.1" cy="532.3" rx="2.3" ry="5.4" fill="#000" transform="rotate(18 433.7 531.5)"/>
<ellipse cx="442.1" cy="537.5" rx="3.8" ry="6.6" fill="#fff" transform="rotate(18 442.1 537.5)"/>
<ellipse cx="444.5" cy="538.3" rx="2.3" ry="5.4" fill="#000" transform="rotate(18 442.1 537.5)"/>
<rect x="371.9" y="507.5" width="12" height="7" rx="3.3" fill="#fff" transform="rotate(-30 377.9 511.0)"/>
<rect x="383.4" y="514.0" width="12" height="7" rx="3.3" fill="#fff" transform="rotate(-30 389.4 517.5)"/>
<rect x="394.9" y="520.6" width="12" height="7" rx="3.3" fill="#fff" transform="rotate(-30 400.9 524.1)"/>
<rect x="406.4" y="527.1" width="12" height="7" rx="3.3" fill="#fff" transform="rotate(-30 412.4 530.6)"/>
<rect x="417.9" y="533.7" width="12" height="7" rx="3.3" fill="#fff" transform="rotate(-30 423.9 537.2)"/>
<rect x="429.4" y="540.2" width="12" height="7" rx="3.3" fill="#fff" transform="rotate(-30 435.4 543.7)"/>
<rect x="440.9" y="546.8" width="12" height="7" rx="3.3" fill="#fff" transform="rotate(-30 446.9 550.3)"/>
<rect x="381.9" y="535.6" width="10.5" height="15" rx="2.5" fill="#fff"/>
<rect x="394.9" y="543.1" width="10.5" height="15" rx="2.5" fill="#fff"/>
<rect x="407.9" y="550.6" width="10.5" height="15" rx="2.5" fill="#fff"/>
<rect x="420.9" y="558.1" width="10.5" height="15" rx="2.5" fill="#fff"/>
<rect x="433.9" y="565.6" width="10.5" height="15" rx="2.5" fill="#fff"/>
<rect x="446.9" y="573.1" width="10.5" height="15" rx="2.5" fill="#fff"/>
</g>
<line x1="371.9" y1="549.4" x2="445.9" y2="591.2" stroke="#000" stroke-width="2.4" />
<polygon points="373.9,487.0 395.9,498.0 395.9,506.0 373.9,506.0" fill="#fff" stroke="none" />
<line x1="374.9" y1="489.0" x2="374.9" y2="504.0" stroke="#000" stroke-width="1.4" />
<line x1="379.9" y1="490.0" x2="393.9" y2="498.0" stroke="#000" stroke-width="1.3" />
<line x1="442.4" y1="268.5" x2="442.4" y2="572.5" stroke="#555" stroke-width="0.9" stroke-dasharray="5 3"/>
<line x1="371.9" y1="548.9" x2="445.9" y2="590.2" stroke="#000" stroke-width="2.2" />
<line x1="378.4" y1="559.6" x2="449.4" y2="600.3" stroke="#000" stroke-width="1.5" />
<line x1="445.9" y1="576.5" x2="445.9" y2="590.7" stroke="#000" stroke-width="1.2" />
<line x1="372.4" y1="555.8" x2="372.4" y2="559.8" stroke="#000" stroke-width="2.2" />
<ellipse cx="372.4" cy="561.8" rx="5" ry="3.4" fill="#000"/>
<ellipse cx="371.9" cy="561.2" rx="2.6" ry="1.0" fill="#999"/>
<line x1="362.6" y1="550.8" x2="362.6" y2="554.8" stroke="#000" stroke-width="2.2" />
<ellipse cx="362.6" cy="556.8" rx="5" ry="3.4" fill="#000"/>
<ellipse cx="362.1" cy="556.2" rx="2.6" ry="1.0" fill="#999"/>
<line x1="453.4" y1="265.0" x2="453.4" y2="605.0" stroke="#000" stroke-width="2.4" />
<circle cx="457.9" cy="287.0" r="1.0" fill="#000"/>
<circle cx="457.9" cy="317.0" r="1.0" fill="#000"/>
<circle cx="457.9" cy="347.0" r="1.0" fill="#000"/>
<circle cx="457.9" cy="377.0" r="1.0" fill="#000"/>
<circle cx="457.9" cy="407.0" r="1.0" fill="#000"/>
<circle cx="457.9" cy="437.0" r="1.0" fill="#000"/>
<circle cx="457.9" cy="467.0" r="1.0" fill="#000"/>
<circle cx="457.9" cy="497.0" r="1.0" fill="#000"/>
<circle cx="457.9" cy="527.0" r="1.0" fill="#000"/>
<circle cx="457.9" cy="557.0" r="1.0" fill="#000"/>
<circle cx="457.9" cy="587.0" r="1.0" fill="#000"/>
<circle cx="448.9" cy="295.0" r="1.0" fill="#000"/>
<circle cx="448.9" cy="331.0" r="1.0" fill="#000"/>
<circle cx="448.9" cy="367.0" r="1.0" fill="#000"/>
<circle cx="448.9" cy="403.0" r="1.0" fill="#000"/>
<circle cx="448.9" cy="439.0" r="1.0" fill="#000"/>
<circle cx="448.9" cy="475.0" r="1.0" fill="#000"/>
<circle cx="448.9" cy="511.0" r="1.0" fill="#000"/>
<circle cx="448.9" cy="547.0" r="1.0" fill="#000"/>
<circle cx="448.9" cy="583.0" r="1.0" fill="#000"/>
<polygon points="461.9,275.4 534.9,316.5 534.9,574.0 461.9,538.0" fill="url(#mesh)" stroke="#000" stroke-width="1.4" />
<clipPath id="cc3"><polygon points="461.9,538.0 534.9,574.0 534.9,639.3 461.9,597.5"/></clipPath>
<polygon points="461.9,538.0 534.9,574.0 534.9,639.3 461.9,597.5" fill="#000" stroke="#000" stroke-width="1.0" />
<g clip-path="url(#cc3)">
<ellipse cx="464.9" cy="541.5" rx="3.8" ry="6.6" fill="#fff" transform="rotate(18 464.9 541.5)"/>
<ellipse cx="467.3" cy="542.3" rx="2.3" ry="5.4" fill="#000" transform="rotate(18 464.9 541.5)"/>
<ellipse cx="473.3" cy="547.5" rx="3.8" ry="6.6" fill="#fff" transform="rotate(18 473.3 547.5)"/>
<ellipse cx="475.7" cy="548.3" rx="2.3" ry="5.4" fill="#000" transform="rotate(18 473.3 547.5)"/>
<ellipse cx="481.7" cy="553.5" rx="3.8" ry="6.6" fill="#fff" transform="rotate(18 481.7 553.5)"/>
<ellipse cx="484.1" cy="554.3" rx="2.3" ry="5.4" fill="#000" transform="rotate(18 481.7 553.5)"/>
<ellipse cx="490.1" cy="559.5" rx="3.8" ry="6.6" fill="#fff" transform="rotate(18 490.1 559.5)"/>
<ellipse cx="492.5" cy="560.3" rx="2.3" ry="5.4" fill="#000" transform="rotate(18 490.1 559.5)"/>
<ellipse cx="498.5" cy="565.5" rx="3.8" ry="6.6" fill="#fff" transform="rotate(18 498.5 565.5)"/>
<ellipse cx="500.9" cy="566.3" rx="2.3" ry="5.4" fill="#000" transform="rotate(18 498.5 565.5)"/>
<ellipse cx="506.9" cy="571.5" rx="3.8" ry="6.6" fill="#fff" transform="rotate(18 506.9 571.5)"/>
<ellipse cx="509.3" cy="572.3" rx="2.3" ry="5.4" fill="#000" transform="rotate(18 506.9 571.5)"/>
<ellipse cx="515.3" cy="577.5" rx="3.8" ry="6.6" fill="#fff" transform="rotate(18 515.3 577.5)"/>
<ellipse cx="517.7" cy="578.3" rx="2.3" ry="5.4" fill="#000" transform="rotate(18 515.3 577.5)"/>
<ellipse cx="523.7" cy="583.5" rx="3.8" ry="6.6" fill="#fff" transform="rotate(18 523.7 583.5)"/>
<ellipse cx="526.1" cy="584.3" rx="2.3" ry="5.4" fill="#000" transform="rotate(18 523.7 583.5)"/>
<ellipse cx="532.1" cy="589.5" rx="3.8" ry="6.6" fill="#fff" transform="rotate(18 532.1 589.5)"/>
<ellipse cx="534.5" cy="590.3" rx="2.3" ry="5.4" fill="#000" transform="rotate(18 532.1 589.5)"/>
<rect x="461.9" y="559.5" width="12" height="7" rx="3.3" fill="#fff" transform="rotate(-30 467.9 563.0)"/>
<rect x="473.4" y="566.1" width="12" height="7" rx="3.3" fill="#fff" transform="rotate(-30 479.4 569.6)"/>
<rect x="484.9" y="572.7" width="12" height="7" rx="3.3" fill="#fff" transform="rotate(-30 490.9 576.2)"/>
<rect x="496.4" y="579.2" width="12" height="7" rx="3.3" fill="#fff" transform="rotate(-30 502.4 582.7)"/>
<rect x="507.9" y="585.8" width="12" height="7" rx="3.3" fill="#fff" transform="rotate(-30 513.9 589.3)"/>
<rect x="519.4" y="592.3" width="12" height="7" rx="3.3" fill="#fff" transform="rotate(-30 525.4 595.8)"/>
<rect x="530.9" y="598.9" width="12" height="7" rx="3.3" fill="#fff" transform="rotate(-30 536.9 602.4)"/>
<rect x="471.9" y="587.6" width="10.5" height="15" rx="2.5" fill="#fff"/>
<rect x="484.9" y="595.1" width="10.5" height="15" rx="2.5" fill="#fff"/>
<rect x="497.9" y="602.6" width="10.5" height="15" rx="2.5" fill="#fff"/>
<rect x="510.9" y="610.1" width="10.5" height="15" rx="2.5" fill="#fff"/>
<rect x="523.9" y="617.6" width="10.5" height="15" rx="2.5" fill="#fff"/>
<rect x="536.9" y="625.1" width="10.5" height="15" rx="2.5" fill="#fff"/>
</g>
<line x1="461.9" y1="601.5" x2="535.9" y2="643.3" stroke="#000" stroke-width="2.4" />
<polygon points="463.9,539.0 485.9,550.0 485.9,558.0 463.9,558.0" fill="#fff" stroke="none" />
<line x1="464.9" y1="541.0" x2="464.9" y2="556.0" stroke="#000" stroke-width="1.4" />
<line x1="469.9" y1="542.0" x2="483.9" y2="550.0" stroke="#000" stroke-width="1.3" />
<line x1="532.4" y1="320.5" x2="532.4" y2="624.5" stroke="#555" stroke-width="0.9" stroke-dasharray="5 3"/>
<line x1="461.9" y1="601.0" x2="535.9" y2="642.3" stroke="#000" stroke-width="2.2" />
<line x1="468.4" y1="611.7" x2="539.4" y2="652.4" stroke="#000" stroke-width="1.5" />
<line x1="535.9" y1="628.5" x2="535.9" y2="642.8" stroke="#000" stroke-width="1.2" />
<line x1="462.4" y1="607.8" x2="462.4" y2="611.8" stroke="#000" stroke-width="2.2" />
<ellipse cx="462.4" cy="613.8" rx="5" ry="3.4" fill="#000"/>
<ellipse cx="461.9" cy="613.2" rx="2.6" ry="1.0" fill="#999"/>
<line x1="452.6" y1="602.8" x2="452.6" y2="606.8" stroke="#000" stroke-width="2.2" />
<ellipse cx="452.6" cy="608.8" rx="5" ry="3.4" fill="#000"/>
<ellipse cx="452.1" cy="608.2" rx="2.6" ry="1.0" fill="#999"/>
<line x1="543.4" y1="317.1" x2="543.4" y2="657.1" stroke="#000" stroke-width="2.4" />
<circle cx="547.9" cy="342.0" r="1.0" fill="#000"/>
<circle cx="547.9" cy="372.0" r="1.0" fill="#000"/>
<circle cx="547.9" cy="402.0" r="1.0" fill="#000"/>
<circle cx="547.9" cy="432.0" r="1.0" fill="#000"/>
<circle cx="547.9" cy="462.0" r="1.0" fill="#000"/>
<circle cx="547.9" cy="492.0" r="1.0" fill="#000"/>
<circle cx="547.9" cy="522.0" r="1.0" fill="#000"/>
<circle cx="547.9" cy="552.0" r="1.0" fill="#000"/>
<circle cx="547.9" cy="582.0" r="1.0" fill="#000"/>
<circle cx="547.9" cy="612.0" r="1.0" fill="#000"/>
<circle cx="547.9" cy="642.0" r="1.0" fill="#000"/>
<circle cx="538.9" cy="347.0" r="1.0" fill="#000"/>
<circle cx="538.9" cy="383.0" r="1.0" fill="#000"/>
<circle cx="538.9" cy="419.0" r="1.0" fill="#000"/>
<circle cx="538.9" cy="455.0" r="1.0" fill="#000"/>
<circle cx="538.9" cy="491.0" r="1.0" fill="#000"/>
<circle cx="538.9" cy="527.0" r="1.0" fill="#000"/>
<circle cx="538.9" cy="563.0" r="1.0" fill="#000"/>
<circle cx="538.9" cy="599.0" r="1.0" fill="#000"/>
<circle cx="538.9" cy="635.0" r="1.0" fill="#000"/>
<polygon points="551.9,390.1 624.9,428.1 624.9,680.6 560.9,649.1 560.9,651.6 552.9,651.6 551.9,649.6" fill="url(#mesh)" stroke="#000" stroke-width="1.4" />
<rect x="555.4" y="643.6" width="4" height="5" fill="#fff" stroke="#000" stroke-width="1.2"/>
<ellipse cx="561.9" cy="650.6" rx="2.5" ry="2" fill="#000"/>
<line x1="622.4" y1="432.1" x2="622.4" y2="676.6" stroke="#555" stroke-width="0.9" stroke-dasharray="5 3"/>
<line x1="553.4" y1="324.1" x2="553.4" y2="390.1" stroke="#000" stroke-width="2.2" />
<circle cx="552.8" cy="326.1" r="1.5" fill="#000"/>
<circle cx="552.8" cy="330.5" r="1.5" fill="#000"/>
<circle cx="552.8" cy="334.9" r="1.5" fill="#000"/>
<circle cx="552.8" cy="339.3" r="1.5" fill="#000"/>
<circle cx="552.8" cy="343.7" r="1.5" fill="#000"/>
<circle cx="552.8" cy="348.1" r="1.5" fill="#000"/>
<circle cx="552.8" cy="352.5" r="1.5" fill="#000"/>
<circle cx="552.8" cy="356.9" r="1.5" fill="#000"/>
<circle cx="552.8" cy="361.3" r="1.5" fill="#000"/>
<circle cx="552.8" cy="365.7" r="1.5" fill="#000"/>
<circle cx="552.8" cy="370.1" r="1.5" fill="#000"/>
<circle cx="552.8" cy="374.5" r="1.5" fill="#000"/>
<circle cx="552.8" cy="378.9" r="1.5" fill="#000"/>
<circle cx="552.8" cy="383.3" r="1.5" fill="#000"/>
<circle cx="552.8" cy="387.7" r="1.5" fill="#000"/>
<line x1="624.4" y1="367.1" x2="624.4" y2="428.1" stroke="#000" stroke-width="2.2" />
<circle cx="625.0" cy="369.1" r="1.5" fill="#000"/>
<circle cx="625.0" cy="373.5" r="1.5" fill="#000"/>
<circle cx="625.0" cy="377.9" r="1.5" fill="#000"/>
<circle cx="625.0" cy="382.3" r="1.5" fill="#000"/>
<circle cx="625.0" cy="386.7" r="1.5" fill="#000"/>
<circle cx="625.0" cy="391.1" r="1.5" fill="#000"/>
<circle cx="625.0" cy="395.5" r="1.5" fill="#000"/>
<circle cx="625.0" cy="399.9" r="1.5" fill="#000"/>
<circle cx="625.0" cy="404.3" r="1.5" fill="#000"/>
<circle cx="625.0" cy="408.7" r="1.5" fill="#000"/>
<circle cx="625.0" cy="413.1" r="1.5" fill="#000"/>
<circle cx="625.0" cy="417.5" r="1.5" fill="#000"/>
<circle cx="625.0" cy="421.9" r="1.5" fill="#000"/>
<circle cx="625.0" cy="426.3" r="1.5" fill="#000"/>
<line x1="556.4" y1="326.1" x2="556.4" y2="389.1" stroke="#000" stroke-width="1.0" />
<line x1="559.9" y1="327.1" x2="559.9" y2="387.1" stroke="#000" stroke-width="1.4" />
<line x1="563.7" y1="329.1" x2="563.7" y2="385.1" stroke="#000" stroke-width="1.4" />
<line x1="561.8" y1="330.1" x2="561.8" y2="384.1" stroke="#000" stroke-width="3.0" stroke-dasharray="3 2.2"/>
<line x1="593.7" y1="344.1" x2="593.7" y2="366.1" stroke="#000" stroke-width="1.4" />
<line x1="596.9" y1="346.1" x2="596.9" y2="365.1" stroke="#000" stroke-width="1.4" />
<line x1="600.9" y1="348.1" x2="600.9" y2="363.1" stroke="#000" stroke-width="1.2" />
<line x1="598.9" y1="348.1" x2="598.9" y2="364.1" stroke="#777" stroke-width="1.0" />
<line x1="563.4" y1="388.1" x2="608.4" y2="363.1" stroke="#000" stroke-width="1.4" />
<line x1="563.4" y1="385.1" x2="606.4" y2="361.1" stroke="#000" stroke-width="1.0" />
<line x1="586.4" y1="375.1" x2="623.4" y2="394.6" stroke="#000" stroke-width="1.3" />
<ellipse cx="569.1" cy="384.9" rx="2.0" ry="1.5" fill="#000"/>
<ellipse cx="580.8" cy="384.9" rx="2.0" ry="1.5" fill="#000"/>
<ellipse cx="592.5" cy="383.9" rx="2.0" ry="1.5" fill="#000"/>
<ellipse cx="603.1" cy="390.7" rx="2.0" ry="1.5" fill="#000"/>
<ellipse cx="578.8" cy="391.7" rx="2.0" ry="1.5" fill="#000"/>
<ellipse cx="590.5" cy="397.6" rx="2.0" ry="1.5" fill="#000"/>
<ellipse cx="569.1" cy="397.6" rx="2.0" ry="1.5" fill="#000"/>
<ellipse cx="578.8" cy="403.4" rx="2.0" ry="1.5" fill="#000"/>
<ellipse cx="602.1" cy="404.4" rx="2.0" ry="1.5" fill="#000"/>
<ellipse cx="613.9" cy="397.6" rx="2.0" ry="1.5" fill="#000"/>
<ellipse cx="613.9" cy="409.2" rx="2.0" ry="1.5" fill="#000"/>
<ellipse cx="588.6" cy="409.1" rx="2.0" ry="1.5" fill="#000"/>
<ellipse cx="604.1" cy="414.2" rx="2.0" ry="1.5" fill="#000"/>
<ellipse cx="612.0" cy="419.0" rx="2.0" ry="1.5" fill="#000"/>
<ellipse cx="559.4" cy="392.1" rx="2.0" ry="1.5" fill="#000"/>
<ellipse cx="557.4" cy="387.1" rx="2.0" ry="1.5" fill="#000"/>
<line x1="551.9" y1="653.0" x2="625.9" y2="694.4" stroke="#000" stroke-width="2.2" />
<line x1="558.4" y1="663.8" x2="629.4" y2="704.5" stroke="#000" stroke-width="1.5" />
<line x1="625.9" y1="680.6" x2="625.9" y2="694.9" stroke="#000" stroke-width="1.2" />
<line x1="552.4" y1="659.9" x2="552.4" y2="663.9" stroke="#000" stroke-width="2.2" />
<ellipse cx="552.4" cy="665.9" rx="5" ry="3.4" fill="#000"/>
<ellipse cx="551.9" cy="665.3" rx="2.6" ry="1.0" fill="#999"/>
<line x1="542.6" y1="654.9" x2="542.6" y2="658.9" stroke="#000" stroke-width="2.2" />
<ellipse cx="542.6" cy="660.9" rx="5" ry="3.4" fill="#000"/>
<ellipse cx="542.1" cy="660.3" rx="2.6" ry="1.0" fill="#999"/>
<line x1="633.5" y1="369.2" x2="633.5" y2="709.2" stroke="#000" stroke-width="2.4" />
<circle cx="638.0" cy="390.0" r="1.0" fill="#000"/>
<circle cx="638.0" cy="420.0" r="1.0" fill="#000"/>
<circle cx="638.0" cy="450.0" r="1.0" fill="#000"/>
<circle cx="638.0" cy="480.0" r="1.0" fill="#000"/>
<circle cx="638.0" cy="510.0" r="1.0" fill="#000"/>
<circle cx="638.0" cy="540.0" r="1.0" fill="#000"/>
<circle cx="638.0" cy="570.0" r="1.0" fill="#000"/>
<circle cx="638.0" cy="600.0" r="1.0" fill="#000"/>
<circle cx="638.0" cy="630.0" r="1.0" fill="#000"/>
<circle cx="638.0" cy="660.0" r="1.0" fill="#000"/>
<circle cx="638.0" cy="690.0" r="1.0" fill="#000"/>
<circle cx="629.0" cy="399.0" r="1.0" fill="#000"/>
<circle cx="629.0" cy="435.0" r="1.0" fill="#000"/>
<circle cx="629.0" cy="471.0" r="1.0" fill="#000"/>
<circle cx="629.0" cy="507.0" r="1.0" fill="#000"/>
<circle cx="629.0" cy="543.0" r="1.0" fill="#000"/>
<circle cx="629.0" cy="579.0" r="1.0" fill="#000"/>
<circle cx="629.0" cy="615.0" r="1.0" fill="#000"/>
<circle cx="629.0" cy="651.0" r="1.0" fill="#000"/>
<circle cx="629.0" cy="687.0" r="1.0" fill="#000"/>
<polygon points="642.0,442.2 715.0,480.2 715.0,732.7 651.0,701.2 651.0,703.7 643.0,703.7 642.0,701.7" fill="url(#mesh)" stroke="#000" stroke-width="1.4" />
<rect x="645.5" y="695.7" width="4" height="5" fill="#fff" stroke="#000" stroke-width="1.2"/>
<ellipse cx="652.0" cy="702.7" rx="2.5" ry="2" fill="#000"/>
<line x1="712.5" y1="484.2" x2="712.5" y2="728.7" stroke="#555" stroke-width="0.9" stroke-dasharray="5 3"/>
<line x1="643.5" y1="376.2" x2="643.5" y2="442.2" stroke="#000" stroke-width="2.2" />
<circle cx="642.9" cy="378.2" r="1.5" fill="#000"/>
<circle cx="642.9" cy="382.6" r="1.5" fill="#000"/>
<circle cx="642.9" cy="387.0" r="1.5" fill="#000"/>
<circle cx="642.9" cy="391.4" r="1.5" fill="#000"/>
<circle cx="642.9" cy="395.8" r="1.5" fill="#000"/>
<circle cx="642.9" cy="400.2" r="1.5" fill="#000"/>
<circle cx="642.9" cy="404.6" r="1.5" fill="#000"/>
<circle cx="642.9" cy="409.0" r="1.5" fill="#000"/>
<circle cx="642.9" cy="413.4" r="1.5" fill="#000"/>
<circle cx="642.9" cy="417.8" r="1.5" fill="#000"/>
<circle cx="642.9" cy="422.2" r="1.5" fill="#000"/>
<circle cx="642.9" cy="426.6" r="1.5" fill="#000"/>
<circle cx="642.9" cy="431.0" r="1.5" fill="#000"/>
<circle cx="642.9" cy="435.4" r="1.5" fill="#000"/>
<circle cx="642.9" cy="439.8" r="1.5" fill="#000"/>
<line x1="714.5" y1="419.2" x2="714.5" y2="480.2" stroke="#000" stroke-width="2.2" />
<circle cx="715.1" cy="421.2" r="1.5" fill="#000"/>
<circle cx="715.1" cy="425.6" r="1.5" fill="#000"/>
<circle cx="715.1" cy="430.0" r="1.5" fill="#000"/>
<circle cx="715.1" cy="434.4" r="1.5" fill="#000"/>
<circle cx="715.1" cy="438.8" r="1.5" fill="#000"/>
<circle cx="715.1" cy="443.2" r="1.5" fill="#000"/>
<circle cx="715.1" cy="447.6" r="1.5" fill="#000"/>
<circle cx="715.1" cy="452.0" r="1.5" fill="#000"/>
<circle cx="715.1" cy="456.4" r="1.5" fill="#000"/>
<circle cx="715.1" cy="460.8" r="1.5" fill="#000"/>
<circle cx="715.1" cy="465.2" r="1.5" fill="#000"/>
<circle cx="715.1" cy="469.6" r="1.5" fill="#000"/>
<circle cx="715.1" cy="474.0" r="1.5" fill="#000"/>
<circle cx="715.1" cy="478.4" r="1.5" fill="#000"/>
<line x1="646.5" y1="378.2" x2="646.5" y2="441.2" stroke="#000" stroke-width="1.0" />
<line x1="650.0" y1="379.2" x2="650.0" y2="439.2" stroke="#000" stroke-width="1.4" />
<line x1="653.8" y1="381.2" x2="653.8" y2="437.2" stroke="#000" stroke-width="1.4" />
<line x1="651.9" y1="382.2" x2="651.9" y2="436.2" stroke="#000" stroke-width="3.0" stroke-dasharray="3 2.2"/>
<line x1="683.8" y1="396.2" x2="683.8" y2="418.2" stroke="#000" stroke-width="1.4" />
<line x1="687.0" y1="398.2" x2="687.0" y2="417.2" stroke="#000" stroke-width="1.4" />
<line x1="691.0" y1="400.2" x2="691.0" y2="415.2" stroke="#000" stroke-width="1.2" />
<line x1="689.0" y1="400.2" x2="689.0" y2="416.2" stroke="#777" stroke-width="1.0" />
<line x1="653.5" y1="440.2" x2="698.5" y2="415.2" stroke="#000" stroke-width="1.4" />
<line x1="653.5" y1="437.2" x2="696.5" y2="413.2" stroke="#000" stroke-width="1.0" />
<line x1="676.5" y1="427.2" x2="713.5" y2="446.7" stroke="#000" stroke-width="1.3" />
<ellipse cx="659.2" cy="437.0" rx="2.0" ry="1.5" fill="#000"/>
<ellipse cx="670.9" cy="437.0" rx="2.0" ry="1.5" fill="#000"/>
<ellipse cx="682.6" cy="436.0" rx="2.0" ry="1.5" fill="#000"/>
<ellipse cx="693.2" cy="442.8" rx="2.0" ry="1.5" fill="#000"/>
<ellipse cx="668.9" cy="443.8" rx="2.0" ry="1.5" fill="#000"/>
<ellipse cx="680.6" cy="449.7" rx="2.0" ry="1.5" fill="#000"/>
<ellipse cx="659.2" cy="449.7" rx="2.0" ry="1.5" fill="#000"/>
<ellipse cx="668.9" cy="455.5" rx="2.0" ry="1.5" fill="#000"/>
<ellipse cx="692.2" cy="456.5" rx="2.0" ry="1.5" fill="#000"/>
<ellipse cx="704.0" cy="449.7" rx="2.0" ry="1.5" fill="#000"/>
<ellipse cx="704.0" cy="461.3" rx="2.0" ry="1.5" fill="#000"/>
<ellipse cx="678.7" cy="461.2" rx="2.0" ry="1.5" fill="#000"/>
<ellipse cx="694.2" cy="466.3" rx="2.0" ry="1.5" fill="#000"/>
<ellipse cx="702.1" cy="471.1" rx="2.0" ry="1.5" fill="#000"/>
<ellipse cx="649.5" cy="444.2" rx="2.0" ry="1.5" fill="#000"/>
<ellipse cx="647.5" cy="439.2" rx="2.0" ry="1.5" fill="#000"/>
<line x1="642.0" y1="705.1" x2="716.0" y2="746.4" stroke="#000" stroke-width="2.2" />
<line x1="648.5" y1="715.9" x2="719.5" y2="756.6" stroke="#000" stroke-width="1.5" />
<line x1="716.0" y1="732.7" x2="716.0" y2="746.9" stroke="#000" stroke-width="1.2" />
<line x1="642.5" y1="712.0" x2="642.5" y2="716.0" stroke="#000" stroke-width="2.2" />
<ellipse cx="642.5" cy="718.0" rx="5" ry="3.4" fill="#000"/>
<ellipse cx="642.0" cy="717.4" rx="2.6" ry="1.0" fill="#999"/>
<line x1="632.7" y1="707.0" x2="632.7" y2="711.0" stroke="#000" stroke-width="2.2" />
<ellipse cx="632.7" cy="713.0" rx="5" ry="3.4" fill="#000"/>
<ellipse cx="632.2" cy="712.4" rx="2.6" ry="1.0" fill="#999"/>
<polyline points="183.3,442.8 183.3,447.8 187.3,450.3 203.3,458.9" fill="none" stroke="#000" stroke-width="2.0" />
<ellipse cx="724.4" cy="765.6" rx="5.2" ry="3.6" fill="#000"/>
<ellipse cx="723.9" cy="765.0" rx="2.6" ry="1.0" fill="#999"/>
<circle cx="195.7" cy="117.0" r="2.0" fill="#000"/>
<circle cx="230.7" cy="137.2" r="2.0" fill="#000"/>
<circle cx="265.7" cy="157.5" r="2.0" fill="#000"/>
<circle cx="285.7" cy="169.1" r="2.0" fill="#000"/>
<circle cx="320.7" cy="189.3" r="2.0" fill="#000"/>
<circle cx="355.7" cy="209.6" r="2.0" fill="#000"/>
<circle cx="375.8" cy="221.1" r="2.0" fill="#000"/>
<circle cx="410.8" cy="241.4" r="2.0" fill="#000"/>
<circle cx="445.8" cy="261.6" r="2.0" fill="#000"/>
<circle cx="465.8" cy="273.2" r="2.0" fill="#000"/>
<circle cx="500.8" cy="293.5" r="2.0" fill="#000"/>
<circle cx="535.8" cy="313.7" r="2.0" fill="#000"/>
<circle cx="555.8" cy="325.3" r="2.0" fill="#000"/>
<circle cx="590.8" cy="345.6" r="2.0" fill="#000"/>
<circle cx="625.8" cy="365.8" r="2.0" fill="#000"/>
<circle cx="645.9" cy="377.4" r="2.0" fill="#000"/>
<circle cx="680.9" cy="397.6" r="2.0" fill="#000"/>
<circle cx="715.9" cy="417.9" r="2.0" fill="#000"/>
<polygon points="474,183 582,183 582,248 474,257" fill="#fff"/>
<line x1="272.6" y1="70.0" x2="474.6" y2="185.6" stroke="#000" stroke-width="1.8" />
<line x1="578.3" y1="244.9" x2="796.6" y2="369.8" stroke="#000" stroke-width="1.8" />
<polygon points="261.7,63.8 282.5,67.7 275.6,79.8" fill="#000" stroke="none" />
<polygon points="807.5,376.0 786.7,372.1 793.6,360.0" fill="#000" stroke="none" />
<line x1="909.8" y1="322.2" x2="909.8" y2="654.6" stroke="#000" stroke-width="1.5" />
<line x1="896.1" y1="330.0" x2="923.4" y2="314.4" stroke="#000" stroke-width="1.5" />
<line x1="896.0" y1="664.6" x2="923.4" y2="649.2" stroke="#000" stroke-width="1.5" />
<polyline points="723.4,777.4 723.4,793.0 886.0,699.7 886.0,682.6" fill="none" stroke="#000" stroke-width="1.5" />
<rect x="295.1" y="400.6" width="42.89999999999998" height="41.599999999999966" fill="#fff"/>
<text x="306.0" y="433.2" font-size="36" fill="#000" >3</text>
<rect x="484.3" y="423.7" width="41.69999999999999" height="41.19999999999999" fill="#fff"/>
<text x="495.0" y="455.5" font-size="36" fill="#000" >2</text>
<rect x="215" y="149" width="41.69999999999999" height="42.30000000000001" fill="#fff"/>
<text x="224.0" y="181.7" font-size="36" fill="#000" >4</text>
<rect x="353.1" y="497.8" width="42.69999999999999" height="40.49999999999994" fill="#fff"/>
<path d="M373.6,504.0 h3.3 v27 h-3.3 v-22.2 l-5.4,3.5 l-1.4,-2.6 z" fill="#000"/>
<rect x="454.3" y="554.6" width="41.39999999999998" height="40.69999999999993" fill="#fff"/>
<path d="M473.4,560.0 h3.3 v27 h-3.3 v-22.2 l-5.4,3.5 l-1.4,-2.6 z" fill="#000"/>
<line x1="207.1" y1="529.1" x2="310.2" y2="357.2" stroke="#d0202a" stroke-width="2.2" />
<polygon points="316.4,346.9 312.2,366.5 301.1,359.8" fill="#d0202a" stroke="none" />
<line x1="207.1" y1="529.1" x2="302.4" y2="466.5" stroke="#d0202a" stroke-width="2.2" />
<polygon points="312.4,459.9 300.1,475.8 293.0,464.9" fill="#d0202a" stroke="none" />
<line x1="284.7" y1="571.2" x2="403.1" y2="326.6" stroke="#d0202a" stroke-width="2.2" />
<polygon points="408.3,315.8 405.9,335.7 394.2,330.1" fill="#d0202a" stroke="none" />
<line x1="284.7" y1="571.2" x2="400.1" y2="446.9" stroke="#d0202a" stroke-width="2.2" />
<polygon points="408.3,438.1 400.1,456.4 390.6,447.6" fill="#d0202a" stroke="none" />
<line x1="326.9" y1="606.4" x2="402.4" y2="532.4" stroke="#d0202a" stroke-width="2.2" />
<polygon points="411.0,524.0 402.0,541.9 392.9,532.7" fill="#d0202a" stroke="none" />
<line x1="401.1" y1="633.0" x2="491.3" y2="378.8" stroke="#d0202a" stroke-width="2.2" />
<polygon points="495.3,367.5 495.1,387.6 482.8,383.2" fill="#d0202a" stroke="none" />
<line x1="401.1" y1="633.0" x2="488.9" y2="494.6" stroke="#d0202a" stroke-width="2.2" />
<polygon points="495.3,484.5 490.6,504.0 479.6,497.1" fill="#d0202a" stroke="none" />
<line x1="457.2" y1="681.0" x2="498.9" y2="593.3" stroke="#d0202a" stroke-width="2.2" />
<polygon points="504.0,582.5 501.7,602.5 490.0,596.9" fill="#d0202a" stroke="none" />
<polygon points="343.4,740.2 363.8,727.5 360.9,723.6 382.8,723.6 385.3,737.8 378.0,734.9 355.6,747.0" fill="#0a0a0a" stroke="none" />
<text x="417.6" y="31.5" font-size="20.2" fill="#000" >RACK-12</text>
<text x="500.8" y="80.8" font-size="20.2" fill="#000" >RACK-11</text>
<text x="592.2" y="131.4" font-size="20.2" fill="#000" >RACK-10</text>
<text x="687.4" y="181.3" font-size="20.2" fill="#000" >RACK-00</text>
<text x="770.2" y="234.5" font-size="20.2" fill="#000" >RACK-01</text>
<text x="853.7" y="285.6" font-size="20.2" fill="#000" >RACK-02</text>
<text x="482.8" y="212.8" font-size="20.2" fill="#000" >11 ft-10 in</text>
<text x="480.7" y="236.5" font-size="20.2" fill="#000" >(3620mm)</text>
<text x="930.0" y="478.6" font-size="20.2" fill="#000" >73.1 in</text>
<text x="911.4" y="502.5" font-size="20.2" fill="#000" >(2105 mm)</text>
<text x="810.5" y="763.7" font-size="20.2" fill="#000" >47.25 in</text>
<text x="798.8" y="786.4" font-size="20.2" fill="#000" >(1200 mm)</text>
<text x="79.7" y="542.9" font-size="20.2" fill="#000" >Drive Chassis</text>
<text x="158.2" y="585.4" font-size="20.2" fill="#000" >Drive Chassis</text>
<text x="159.1" y="621.3" font-size="20.2" fill="#000" >Controller Chassis</text>
<text x="274.5" y="646.8" font-size="20.2" fill="#000" >Drive Chassis</text>
<text x="288.6" y="693.0" font-size="20.2" fill="#000" >Controller Chassis</text>
<text x="307.9" y="765.6" font-size="19.4" fill="#000" >Front</text>
<text x="81.1" y="9.6" font-size="12.5" fill="#222" textLength="280" lengthAdjust="spacingAndGlyphs">Figure 1: Storage system components overview</text>
</svg></body></html>
